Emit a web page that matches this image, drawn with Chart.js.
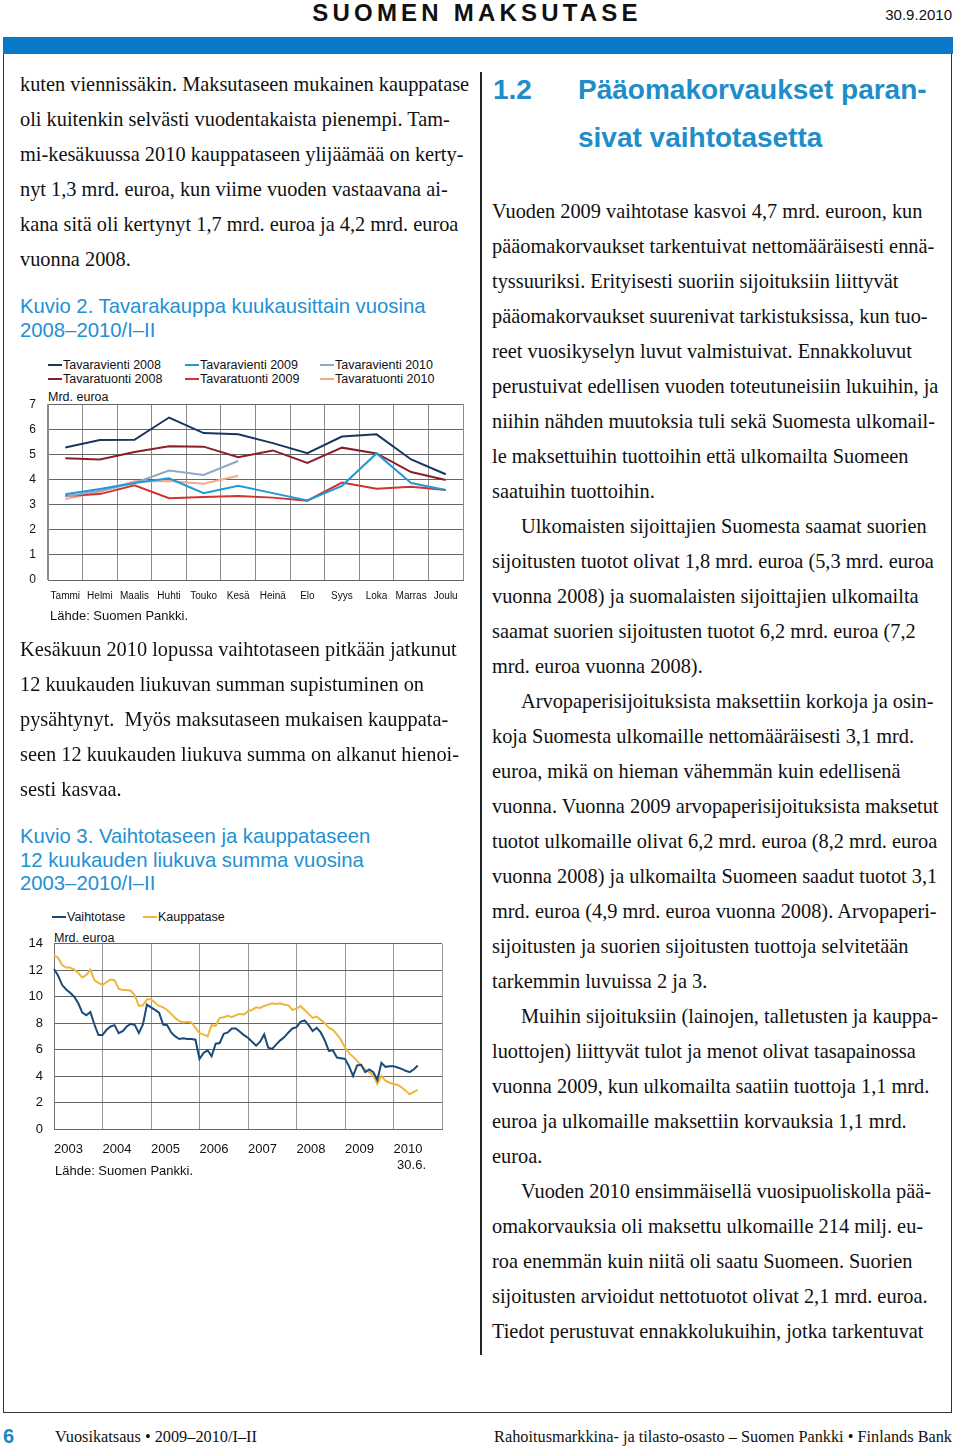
<!DOCTYPE html>
<html>
<head>
<meta charset="utf-8">
<script src="https://cdn.jsdelivr.net/npm/chart.js@4.4.0/dist/chart.umd.min.js"></script>
<style>
  body { margin: 0; background: #fff; }
  #page { position: relative; width: 960px; height: 1450px; overflow: hidden; font-family: "Liberation Serif", serif; color: #111; }
  .abs { position: absolute; white-space: nowrap; }
  .body { font-size: 20.35px; line-height: 35px; }
  .cap { font-family: "Liberation Sans", Arial, sans-serif; color: #2390d2; font-size: 20.3px; line-height: 23.5px; }
  .sans { font-family: "Liberation Sans", Arial, sans-serif; }
  .ind { display: inline-block; width: 29px; }
  .leg { font-family: "Liberation Sans", Arial, sans-serif; font-size: 12.5px; color: #111; }
  .leg i { display: inline-block; width: 14px; height: 2px; vertical-align: middle; margin-right: 1px; position: relative; top: -1px; }
</style>
</head>
<body>
<div id="page">
  <div class="abs sans" style="left:0;width:954px;top:-1px;text-align:center;font-weight:bold;font-size:24px;letter-spacing:4.2px;line-height:28px;font-family:'Liberation Sans Narrow','Liberation Sans';">SUOMEN MAKSUTASE</div>
  <div class="abs" style="left:860px;width:92px;top:6px;text-align:right;font-size:15px;font-family:'Liberation Sans Narrow','Liberation Sans';">30.9.2010</div>
  <div class="abs" style="left:3px;top:37px;width:950px;height:17px;background:#0a78c8;"></div>
  <div class="abs" style="left:3px;top:54px;width:947px;height:1358px;border:1.5px solid #333;border-top:none;"></div>
  <div class="abs" style="left:480px;top:72px;width:2px;height:1283px;background:#222;"></div>

  <div class="abs body" style="left:20px;top:67px;">kuten viennissäkin. Maksutaseen mukainen kauppatase<br>oli kuitenkin selvästi vuodentakaista pienempi. Tam-<br>mi-kesäkuussa 2010 kauppataseen ylijäämää on kerty-<br>nyt 1,3 mrd. euroa, kun viime vuoden vastaavana ai-<br>kana sitä oli kertynyt 1,7 mrd. euroa ja 4,2 mrd. euroa<br>vuonna 2008.</div>
  <div class="abs cap" style="left:20px;top:295px;">Kuvio 2. Tavarakauppa kuukausittain vuosina<br>2008–2010/I–II</div>

  <div id="legend1" class="abs leg" style="left:48px;top:358px;width:420px;height:30px;"></div>
  <div class="abs leg" style="left:48px;top:390px;">Mrd. euroa</div>
  <canvas id="tradeChart" class="abs" width="450" height="225" style="left:20px;top:385px;"></canvas>
  <div class="abs sans" style="left:50px;top:608px;font-size:13px;">Lähde: Suomen Pankki.</div>

  <div class="abs body" style="left:20px;top:632px;">Kesäkuun 2010 lopussa vaihtotaseen pitkään jatkunut<br>12 kuukauden liukuvan summan supistuminen on<br>pysähtynyt.&nbsp; Myös maksutaseen mukaisen kauppata-<br>seen 12 kuukauden liukuva summa on alkanut hienoi-<br>sesti kasvaa.</div>
  <div class="abs cap" style="left:20px;top:825px;">Kuvio 3. Vaihtotaseen ja kauppataseen<br>12 kuukauden liukuva summa vuosina<br>2003–2010/I–II</div>

  <div id="legend2" class="abs leg" style="left:52px;top:910px;width:300px;height:16px;"></div>
  <div class="abs leg" style="left:54px;top:931px;">Mrd. euroa</div>
  <canvas id="balanceChart" class="abs" width="435" height="251" style="left:20px;top:925px;"></canvas>
  <div class="abs sans" style="left:55px;top:1163px;font-size:13px;">Lähde: Suomen Pankki.</div>

  <div class="abs sans" style="left:493px;top:66px;font-size:28px;font-weight:bold;color:#1e8dc8;line-height:48px;">1.2</div>
  <div class="abs sans" style="left:578px;top:66px;font-size:28px;font-weight:bold;color:#1e8dc8;line-height:48px;">Pääomakorvaukset paran-<br>sivat vaihtotasetta</div>

  <div class="abs body" style="left:492px;top:194px;">Vuoden 2009 vaihtotase kasvoi 4,7 mrd. euroon, kun<br>pääomakorvaukset tarkentuivat nettomääräisesti ennä-<br>tyssuuriksi. Erityisesti suoriin sijoituksiin liittyvät<br>pääomakorvaukset suurenivat tarkistuksissa, kun tuo-<br>reet vuosikyselyn luvut valmistuivat. Ennakkoluvut<br>perustuivat edellisen vuoden toteutuneisiin lukuihin, ja<br>niihin nähden muutoksia tuli sekä Suomesta ulkomail-<br>le maksettuihin tuottoihin että ulkomailta Suomeen<br>saatuihin tuottoihin.<br><span class="ind"></span>Ulkomaisten sijoittajien Suomesta saamat suorien<br>sijoitusten tuotot olivat 1,8 mrd. euroa (5,3 mrd. euroa<br>vuonna 2008) ja suomalaisten sijoittajien ulkomailta<br>saamat suorien sijoitusten tuotot 6,2 mrd. euroa (7,2<br>mrd. euroa vuonna 2008).<br><span class="ind"></span>Arvopaperisijoituksista maksettiin korkoja ja osin-<br>koja Suomesta ulkomaille nettomääräisesti 3,1 mrd.<br>euroa, mikä on hieman vähemmän kuin edellisenä<br>vuonna. Vuonna 2009 arvopaperisijoituksista maksetut<br>tuotot ulkomaille olivat 6,2 mrd. euroa (8,2 mrd. euroa<br>vuonna 2008) ja ulkomailta Suomeen saadut tuotot 3,1<br>mrd. euroa (4,9 mrd. euroa vuonna 2008). Arvopaperi-<br>sijoitusten ja suorien sijoitusten tuottoja selvitetään<br>tarkemmin luvuissa 2 ja 3.<br><span class="ind"></span>Muihin sijoituksiin (lainojen, talletusten ja kauppa-<br>luottojen) liittyvät tulot ja menot olivat tasapainossa<br>vuonna 2009, kun ulkomailta saatiin tuottoja 1,1 mrd.<br>euroa ja ulkomaille maksettiin korvauksia 1,1 mrd.<br>euroa.<br><span class="ind"></span>Vuoden 2010 ensimmäisellä vuosipuoliskolla pää-<br>omakorvauksia oli maksettu ulkomaille 214 milj. eu-<br>roa enemmän kuin niitä oli saatu Suomeen. Suorien<br>sijoitusten arvioidut nettotuotot olivat 2,1 mrd. euroa.<br>Tiedot perustuvat ennakkolukuihin, jotka tarkentuvat</div>

  <div class="abs sans" style="left:3px;top:1425px;font-size:20px;font-weight:bold;color:#1a87c0;">6</div>
  <div class="abs" style="left:55px;top:1427px;font-size:16.3px;">Vuosikatsaus • 2009–2010/I–II</div>
  <div class="abs" style="left:452px;width:500px;top:1427px;font-size:16.3px;text-align:right;">Rahoitusmarkkina- ja tilasto-osasto – Suomen Pankki • Finlands Bank</div>
</div>

<script>
// Kuvio 2: monthly goods trade, bn euro
const months = ['Tammi', 'Helmi', 'Maalis', 'Huhti', 'Touko', 'Kesä', 'Heinä', 'Elo', 'Syys', 'Loka', 'Marras', 'Joulu'];
const vienti2008 = [5.28, 5.57, 5.58, 6.47, 5.85, 5.8, 5.45, 5.05, 5.71, 5.8, 4.8, 4.21];
const vienti2009 = [3.41, 3.62, 3.86, 4.05, 3.46, 3.75, 3.46, 3.17, 3.75, 5.04, 3.86, 3.58];
const vienti2010 = [3.32, 3.55, 3.86, 4.36, 4.18, 4.74];
const tuonti2008 = [4.85, 4.8, 5.1, 5.33, 5.31, 4.89, 5.16, 4.66, 5.27, 5.04, 4.3, 3.98];
const tuonti2009 = [3.34, 3.42, 3.77, 3.26, 3.3, 3.34, 3.28, 3.16, 3.88, 3.63, 3.71, 3.58];
const tuonti2010 = [3.22, 3.5, 3.93, 3.94, 3.83, 4.15];

// Kuvio 3: 12-month moving sums, Dec 2002 .. Jun 2010
const yearTicks = ['2003', '2004', '2005', '2006', '2007', '2008', '2009', '2010'];
const vaihtotase = [
  12.1, 11.6, 10.9, 10.55, 10.3, 10.0, 9.5, 8.8, 8.6, 8.85, 7.9, 7.1, 7.1,
  7.5, 7.75, 7.85, 7.25, 7.4, 7.75, 7.95, 7.85, 7.25, 7.9, 9.4, 9.2,
  9.0, 8.8, 7.9, 7.85, 7.3, 7.0, 6.8, 6.85, 6.8, 6.8, 6.75, 5.3,
  5.75, 5.95, 5.5, 6.45, 6.5, 7.2, 7.3, 7.6, 7.6, 7.35, 7.1, 6.9,
  6.6, 6.3, 6.6, 7.15, 6.15, 6.05, 6.4, 6.7, 6.95, 7.3, 7.6, 7.7,
  8.1, 8.2, 7.85, 7.4, 7.65, 7.3, 6.7, 5.9, 5.95, 5.4, 5.35, 5.3,
  4.75, 4.0, 4.8, 4.85, 4.3, 4.5, 4.3, 3.7, 5.0, 4.7, 4.75, 4.75,
  4.65, 4.55, 4.4, 4.3, 4.5, 4.8
];
const kauppatase = [
  13.15, 12.95, 12.4, 12.2, 12.2, 12.05, 11.8, 11.45, 11.65, 12.05, 11.25, 11.05, 10.9,
  11.1, 11.3, 11.25, 10.6, 10.5, 10.5, 10.45, 10.1, 9.3, 9.35, 9.8, 9.8,
  9.55, 9.3, 9.2, 9.0, 8.7, 8.4, 8.15, 8.05, 8.1, 8.05, 7.65, 7.25,
  7.15, 7.0, 7.85, 7.8, 8.4, 8.45, 8.55, 8.45, 8.6, 8.7, 8.65, 8.9,
  9.0, 9.2, 9.15, 9.3, 9.4, 9.5, 9.45, 9.5, 9.4, 9.35, 9.0, 9.1,
  9.3, 9.0, 8.7, 8.4, 8.5, 8.25, 8.0, 7.65, 7.5, 7.15, 6.75, 6.15,
  5.75, 5.45, 5.15, 4.8, 4.5, 4.3, 4.05, 3.4, 4.0, 3.65, 3.5, 3.4,
  3.35, 3.15, 2.9, 2.62, 2.8, 2.95
];

const gridGrey = '#8a8a8a';
const tickFont = { family: 'Liberation Sans, Arial, sans-serif' };

function htmlLegend(el, items, cols) {
  el.innerHTML = items.map((it, i) =>
    '<span style="position:absolute;left:' + cols[i % cols.length] + 'px;top:' + (Math.floor(i / cols.length) * 14) + 'px;">' +
    '<i style="background:' + it.color + '"></i>' + it.label + '</span>').join('');
}

const set1 = [
  { label: 'Tavaravienti 2008', data: vienti2008, color: '#17375e' },
  { label: 'Tavaravienti 2009', data: vienti2009, color: '#1f9ad6' },
  { label: 'Tavaravienti 2010', data: vienti2010, color: '#8fa8c8' },
  { label: 'Tavaratuonti 2008', data: tuonti2008, color: '#8c1d2c' },
  { label: 'Tavaratuonti 2009', data: tuonti2009, color: '#d03330' },
  { label: 'Tavaratuonti 2010', data: tuonti2010, color: '#f5a98a' }
];
htmlLegend(document.getElementById('legend1'), set1, [0, 137, 272]);

new Chart(document.getElementById('tradeChart'), {
  type: 'line',
  data: {
    labels: months,
    datasets: set1.map(s => ({ label: s.label, data: s.data, borderColor: s.color, backgroundColor: s.color }))
  },
  options: {
    responsive: false,
    animation: false,
    layout: { padding: { top: 6, right: 7, left: 0, bottom: 0 } },
    elements: { point: { radius: 0 }, line: { borderWidth: 2, tension: 0 } },
    plugins: { legend: { display: false }, tooltip: { enabled: false } },
    scales: {
      x: {
        offset: true,
        grid: { offset: true, color: gridGrey, drawTicks: false },
        border: { color: '#666' },
        ticks: { font: { ...tickFont, size: 10 }, color: '#111', padding: 10, maxRotation: 0, autoSkip: false },
        afterFit: s => { s.height = 30; }
      },
      y: {
        min: 0, max: 7,
        grid: { color: '#666', drawTicks: false },
        border: { color: gridGrey },
        ticks: { stepSize: 1, font: { ...tickFont, size: 12 }, color: '#111', padding: 12 },
        afterFit: s => { s.width = 28; }
      }
    }
  }
});

// monthly category labels, Dec 2002 .. Dec 2010
const monthLabels = ['2002-12'];
yearTicks.forEach(y => { for (let m = 1; m <= 12; m++) monthLabels.push(y + '-' + String(m).padStart(2, '0')); });

const set2 = [
  { label: 'Vaihtotase', data: vaihtotase, color: '#1a4a78' },
  { label: 'Kauppatase', data: kauppatase, color: '#efb63c' }
];
htmlLegend(document.getElementById('legend2'), set2, [0, 91]);

new Chart(document.getElementById('balanceChart'), {
  type: 'line',
  data: {
    labels: monthLabels,
    datasets: set2.map(s => ({ label: s.label, data: s.data, borderColor: s.color, backgroundColor: s.color }))
  },
  options: {
    responsive: false,
    animation: false,
    layout: { padding: { top: 7, right: 7, left: 0, bottom: 0 } },
    elements: { point: { radius: 0 }, line: { borderWidth: 2, tension: 0 } },
    plugins: { legend: { display: false }, tooltip: { enabled: false } },
    scales: {
      x: {
        grid: { color: c => (c.index % 12 === 0 ? '#999' : 'rgba(0,0,0,0)'), drawTicks: false },
        border: { color: '#666' },
        ticks: {
          autoSkip: false, maxRotation: 0, align: 'start', padding: 13,
          font: { ...tickFont, size: 13 }, color: '#111',
          callback: (v, i) => {
            if (i % 12 !== 0) return '';
            const y = yearTicks[i / 12];
            if (!y) return '';
            return y === '2010' ? ['2010', ' 30.6.'] : y;
          }
        },
        afterFit: s => { s.height = 47; }
      },
      y: {
        min: 0, max: 14,
        grid: { color: '#666', drawTicks: false },
        border: { color: '#777' },
        ticks: { stepSize: 2, font: { ...tickFont, size: 13 }, color: '#111', padding: 11 },
        afterFit: s => { s.width = 34; }
      }
    }
  }
});
</script>
</body>
</html>
